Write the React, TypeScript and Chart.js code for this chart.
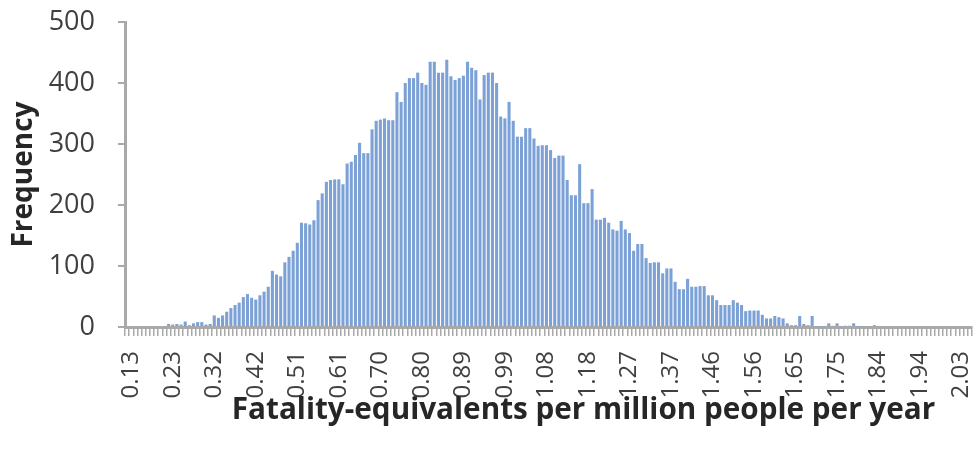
import React, { useEffect, useRef } from "react";
import { Chart, registerables } from "chart.js";

Chart.register(...registerables);

const tickLabels = [
  "0.13", "0.23", "0.32", "0.42", "0.51", "0.61", "0.70", "0.80", "0.89", "0.99",
  "1.08", "1.18", "1.27", "1.37", "1.46", "1.56", "1.65", "1.75", "1.84", "1.94", "2.03",
];

const frequencies = [
  0, 0, 0, 0, 0, 0, 0, 0, 0, 0,
  5, 4, 5, 4, 9, 3, 6, 8, 8, 4,
  5, 19, 15, 19, 25, 31, 36, 40, 49, 54,
  48, 45, 52, 58, 66, 92, 86, 83, 106, 115,
  125, 138, 171, 170, 168, 175, 208, 219, 238, 241,
  242, 242, 234, 268, 271, 282, 302, 285, 285, 324,
  338, 340, 342, 339, 339, 385, 369, 400, 408, 408,
  417, 400, 397, 435, 435, 417, 417, 438, 411, 405,
  408, 412, 435, 425, 421, 373, 413, 417, 417, 400,
  345, 342, 369, 338, 312, 312, 326, 326, 309, 297,
  298, 298, 290, 277, 281, 281, 241, 216, 216, 267,
  203, 203, 226, 176, 176, 179, 171, 160, 158, 174,
  160, 154, 125, 136, 136, 113, 105, 106, 106, 88,
  96, 96, 74, 62, 62, 79, 66, 66, 67, 67,
  52, 52, 44, 36, 36, 36, 44, 40, 36, 26,
  27, 27, 27, 20, 14, 14, 18, 16, 14, 6,
  3, 3, 18, 5, 3, 18, 1, 1, 1, 6,
  2, 6, 1, 2, 2, 6, 1, 1, 0, 1,
  3, 0, 0, 0, 0, 0, 0, 0, 0, 0,
  0, 0, 0, 0, 0, 0, 0, 0, 0, 0,
  0, 0, 0, 0,
];

const yTicks = [0, 100, 200, 300, 400, 500];

const xTitle = "Fatality-equivalents per million people per year";
const yTitle = "Frequency";

const categories = frequencies.map((_, i) =>
  i % 10 === 1 ? tickLabels[(i - 1) / 10] ?? "" : ""
);

const xTitlePlugin = {
  id: "xTitleShifted",
  afterDraw(chart: any) {
    const { ctx, chartArea } = chart;
    ctx.save();
    ctx.font = "bold 29.7px 'Open Sans'";
    ctx.fillStyle = "#262626";
    ctx.textAlign = "center";
    ctx.textBaseline = "middle";
    // title sits slightly right of the plot-area centre, as in the reference
    const cx = (chartArea.left + chartArea.right) / 2 + 35;
    ctx.fillText(xTitle, cx, chartArea.bottom + 84);
    ctx.restore();
  },
};

export default function App() {
  const ref = useRef<HTMLCanvasElement | null>(null);

  useEffect(() => {
    if (!ref.current) return;
    const axisGray = "#A9A9A9";
    const chart = new Chart(ref.current, {
      type: "bar",
      data: {
        labels: categories,
        datasets: [
          {
            data: frequencies,
            backgroundColor: "#7CA1D6",
            borderWidth: 0,
            barPercentage: 0.74,
            categoryPercentage: 1,
          },
        ],
      },
      plugins: [xTitlePlugin],
      options: {
        responsive: false,
        animation: false,
        layout: { padding: { top: 22, right: 5, left: 0, bottom: 0 } },
        plugins: { legend: { display: false }, tooltip: { enabled: false } },
        scales: {
          x: {
            type: "category",
            offset: true,
            grid: {
              display: true,
              drawOnChartArea: false,
              drawTicks: true,
              tickLength: 9,
              color: axisGray,
              lineWidth: 1.5,
              offset: true,
            },
            border: { display: true, color: axisGray, width: 3 },
            ticks: {
              autoSkip: false,
              maxRotation: 90,
              minRotation: 90,
              padding: 15,
              color: "#404040",
              font: { family: "Open Sans", size: 24 },
              callback: (_v: any, i: number) => categories[i],
            },
            title: { display: false },
            afterFit: (s: any) => {
              s.height = 129;
              s.paddingLeft = 0;
              s.paddingRight = 0;
            },
          },
          y: {
            min: 0,
            max: 500,
            afterBuildTicks: (s: any) => {
              s.ticks = yTicks.map((v) => ({ value: v }));
            },
            grid: {
              display: true,
              drawOnChartArea: false,
              drawTicks: true,
              tickLength: 7,
              color: axisGray,
              lineWidth: 2,
            },
            border: { display: true, color: axisGray, width: 3 },
            ticks: {
              padding: 23,
              color: "#404040",
              font: { family: "Open Sans", size: 27 },
            },
            title: {
              display: true,
              text: yTitle,
              color: "#262626",
              font: { family: "Open Sans", size: 28, weight: "bold" },
              padding: { top: 7, bottom: 0 },
            },
            afterFit: (s: any) => {
              s.width = 125;
              s.paddingTop = 0;
              s.paddingBottom = 0;
            },
          },
        },
      },
    });
    return () => chart.destroy();
  }, []);

  return (
    <div style={{ position: "absolute", left: 0, top: 0, width: 977, height: 456, background: "#fff" }}>
      <canvas ref={ref} width={977} height={456} style={{ display: "block" }} />
    </div>
  );
}
